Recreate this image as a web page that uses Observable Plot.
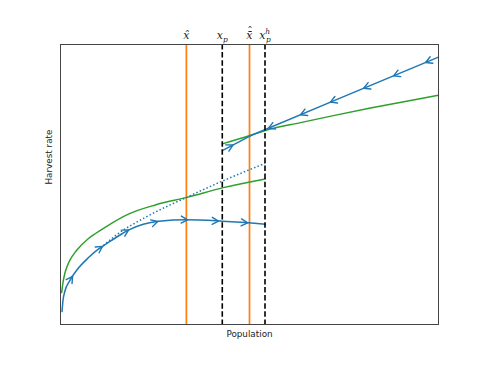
<!DOCTYPE html>
<html>
<head>
<meta charset="utf-8">
<script src="https://cdn.jsdelivr.net/npm/d3@7"></script>
<script src="https://cdn.jsdelivr.net/npm/@observablehq/plot@0.6"></script>
<style>
  html, body { margin: 0; padding: 0; background: #fff; }
  #chart svg { display: block; }
</style>
</head>
<body>
<div id="chart"></div>
<script>
// ---- Data (arbitrary units: population 0..100, harvest rate 0..100) ----
const markerLabels = ["x\u0302", "x_p", "x\u0304\u0302", "x_p^h"];
const markerX = [33.3, 42.8, 50.0, 54.1];
const markerKind = ["equilibrium", "threshold", "equilibrium", "threshold"];

// lower green curve (growth curve before threshold)
const greenLowX = [0.3, 0.66, 1.14, 1.85, 2.46, 4.23, 7.41, 9.26, 11.9, 18.1, 25.1, 33.5, 42.8, 54.2];
const greenLowY = [11.4, 15.0, 18.2, 21.1, 22.9, 26.4, 30.7, 32.5, 34.8, 39.5, 42.7, 45.4, 48.8, 52.0];

// upper green curve (after threshold)
const greenHighX = [42.8, 50.3, 54.2, 63.5, 72.2, 82.0, 92.6, 100];
const greenHighY = [64.5, 67.6, 69.3, 72.1, 74.6, 77.3, 80.0, 81.9];

// blue trajectory, lower (solid)
const blueLowX = [0.4, 0.66, 1.14, 2.46, 4.23, 7.41, 10.1, 11.9, 16.4, 18.1, 26.0, 33.5, 42.8, 49.8, 54.2];
const blueLowY = [4.6, 8.6, 11.8, 15.7, 19.3, 23.9, 27.0, 28.6, 32.5, 33.8, 36.9, 37.4, 36.9, 36.3, 35.8];

// blue trajectory, dotted continuation
const blueDotX = [10.6, 14.6, 22.5, 33.5, 42.8, 54.2];
const blueDotY = [27.3, 31.8, 38.3, 45.5, 51.2, 57.6];

// blue trajectory from the right (decreasing population)
const blueHighX = [100, 74.9, 50.1];
const blueHighY = [95.5, 81.4, 67.3];

// blue trajectory from x_p up to the upper equilibrium
const blueMidX = [42.8, 50.1];
const blueMidY = [62.1, 67.3];

// arrow positions along each trajectory (population values)
const arrowsLowAt = [3.2, 11.1, 18.0, 25.7, 33.6, 41.8, 49.5];
const arrowsHighAt = [96.6, 88.1, 80.2, 71.4, 63.5, 55.0];
const arrowsMidAt = [45.6];

// ---- Layout ----
const width = 487, height = 365;
const marginLeft = 60, marginRight = 49, marginTop = 44, marginBottom = 41;
const xDomain = [0, 100], yDomain = [0, 100];

const blue = "#1f77b4", green = "#2ca02c", orange = "#ff7f0e";

const xs = Plot.scale({x: {domain: xDomain, range: [marginLeft, width - marginRight]}});
const ys = Plot.scale({y: {domain: yDomain, range: [height - marginBottom, marginTop]}});

function pts(X, Y) { return X.map((x, i) => ({x, y: Y[i]})); }

function arrowsOn(X, Y, at) {
  return at.map(a => {
    let i = 0;
    while (i < X.length - 2 && !(a >= Math.min(X[i], X[i + 1]) && a <= Math.max(X[i], X[i + 1]))) i++;
    const t = (a - X[i]) / (X[i + 1] - X[i]);
    const y = Y[i] + t * (Y[i + 1] - Y[i]);
    const dx = xs.apply(X[i + 1]) - xs.apply(X[i]);
    const dy = ys.apply(Y[i + 1]) - ys.apply(Y[i]);
    return {x: a, y, angle: Math.atan2(dx, -dy) * 180 / Math.PI};
  });
}

const arrowData = [
  ...arrowsOn(blueLowX, blueLowY, arrowsLowAt),
  ...arrowsOn(blueHighX, blueHighY, arrowsHighAt),
  ...arrowsOn(blueMidX, blueMidY, arrowsMidAt)
];

const chevron = {
  draw(context, l) {
    context.moveTo(-3.5, 6.3 - l);
    context.lineTo(0, -l);
    context.lineTo(3.5, 6.3 - l);
  }
};

const eqX = markerX.filter((d, i) => markerKind[i] === "equilibrium");
const thX = markerX.filter((d, i) => markerKind[i] === "threshold");

const plot = Plot.plot({
  width, height, marginLeft, marginRight, marginTop, marginBottom,
  style: {fontFamily: "DejaVu Sans", fontSize: "8.8px", background: "#fff", overflow: "visible"},
  x: {domain: xDomain, axis: null},
  y: {domain: yDomain, axis: null},
  marks: [
    Plot.ruleX(eqX, {stroke: orange, strokeWidth: 1.7}),
    Plot.line(pts(greenLowX, greenLowY), {x: "x", y: "y", stroke: green, strokeWidth: 1.5, curve: "monotone-x"}),
    Plot.line(pts(greenHighX, greenHighY), {x: "x", y: "y", stroke: green, strokeWidth: 1.5, curve: "monotone-x"}),
    Plot.line(pts(blueDotX, blueDotY), {x: "x", y: "y", stroke: blue, strokeWidth: 1.5, curve: "monotone-x", strokeDasharray: "1.5,2.2", strokeLinecap: "butt"}),
    Plot.line(pts(blueLowX, blueLowY), {x: "x", y: "y", stroke: blue, strokeWidth: 1.5, curve: "monotone-x"}),
    Plot.line(pts(blueHighX, blueHighY), {x: "x", y: "y", stroke: blue, strokeWidth: 1.5}),
    Plot.line(pts(blueMidX, blueMidY), {x: "x", y: "y", stroke: blue, strokeWidth: 1.5}),
    Plot.vector(arrowData, {x: "x", y: "y", rotate: "angle", length: 6.3, anchor: "end", shape: chevron, stroke: blue, strokeWidth: 1.4}),
    Plot.ruleX(thX, {stroke: "#000", strokeWidth: 1.6, strokeDasharray: "5.5,2.6"}),
    Plot.frame({stroke: "#444", strokeWidth: 1}),
    Plot.text(markerX, {x: d => d, y: yDomain[1], text: (d, i) => markerLabels[i], dy: -9.2, lineAnchor: "middle",
      fontFamily: "DejaVu Serif", fontStyle: "italic", fontSize: 11, fill: "#222"}),
    Plot.text(["Population"], {frameAnchor: "bottom", dy: 10, lineAnchor: "middle", fill: "#222"}),
    Plot.text(["Harvest rate"], {frameAnchor: "left", dx: -11, rotate: -90, lineAnchor: "middle", fill: "#222"})
  ]
});

// typeset accents, sub- and superscripts of the marker labels
const ns = "http://www.w3.org/2000/svg";
plot.querySelectorAll("text").forEach(t => {
  const i = markerLabels.indexOf(t.textContent);
  if (i < 0) return;
  const m = markerLabels[i].match(/^([^_^]+)(?:_([^_^]+))?(?:\^(.+))?$/);
  while (t.firstChild) t.removeChild(t.firstChild);
  const add = (txt, attrs = {}) => {
    const ts = document.createElementNS(ns, "tspan");
    ts.textContent = txt;
    for (const k in attrs) ts.setAttribute(k, attrs[k]);
    t.appendChild(ts);
  };
  const base = m[1];
  if (base.length > 2) {
    // stacked accents: first accent combined, second raised above it
    add(base.slice(0, 2));
    add("\u02C6", {dx: -5, dy: -3.8, "font-style": "normal"});
  } else {
    add(base);
  }
  if (m[2] && m[3]) {
    add(m[3], {dy: -4.5, "font-size": "7.5px"});
    add(m[2], {dx: -4.2, dy: 7.5, "font-size": "7.5px"});
  } else if (m[2]) {
    add(m[2], {dy: 3, "font-size": "7.5px"});
  }
});

document.getElementById("chart").appendChild(plot);
</script>
</body>
</html>
